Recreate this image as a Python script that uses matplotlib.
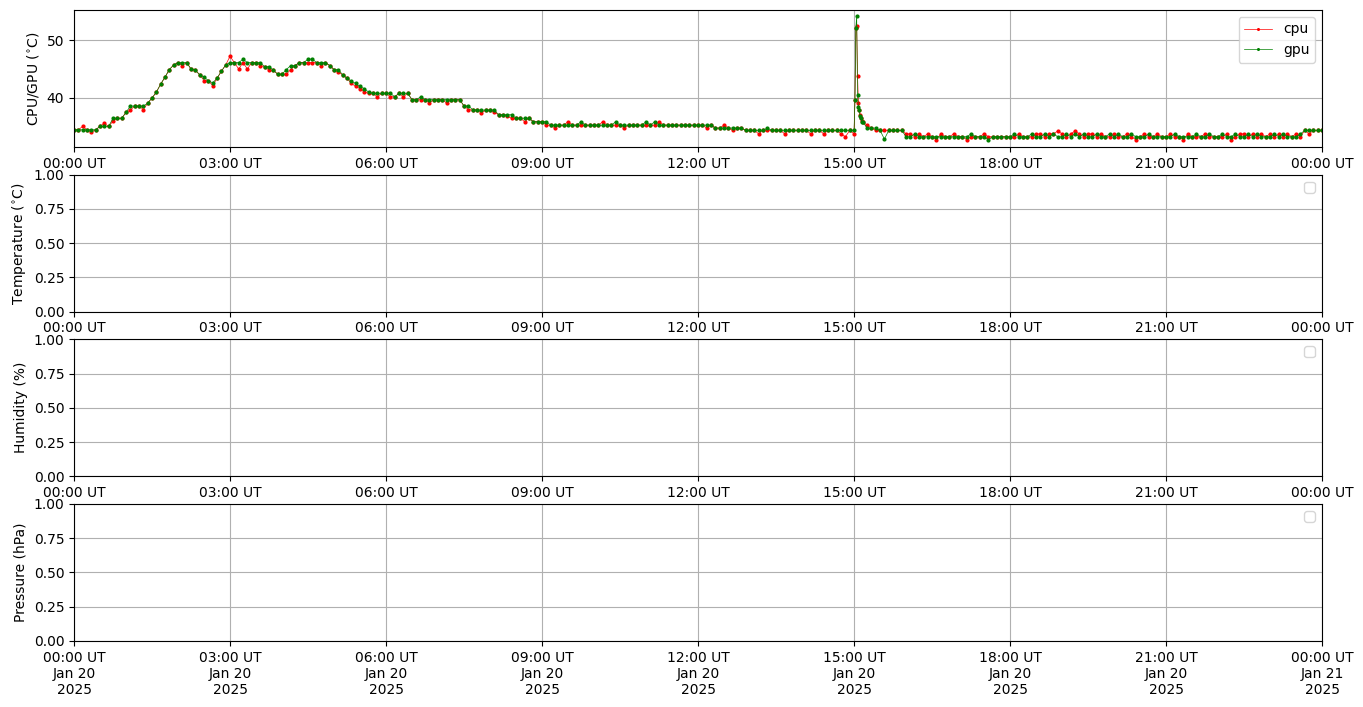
import numpy as np
import pandas as pd
import matplotlib
matplotlib.use('Agg')
import matplotlib.pyplot as plt
import matplotlib.dates as mdates

# cpu/gpu temperature, one reading every 5 minutes, 00:00 Jan 20 -> 00:00 Jan 21 (one row per hour)
gpu = [
    34.5,34.5,34.5,34.5,34.5,34.5,35.1,35.1,35.1,36.5,36.5,36.5,
    37.5,38.6,38.6,38.6,38.6,39.1,40.0,41.0,42.4,43.6,44.9,45.7,
    46.1,46.1,46.1,45.0,44.8,44.0,43.6,43.0,42.6,43.4,44.6,45.7,
    46.1,46.1,46.1,46.7,46.1,46.1,46.1,46.1,45.4,45.4,44.8,44.1,
    44.1,44.9,45.6,45.6,46.1,46.1,46.7,46.7,46.1,46.1,46.1,45.6,
    44.9,44.9,44.0,43.4,42.9,42.5,42.0,41.6,41.0,40.8,40.8,40.8,
    40.8,40.8,40.2,40.8,40.8,40.8,39.7,39.7,40.2,39.7,39.7,39.7,
    39.7,39.7,39.7,39.7,39.7,39.7,38.6,38.6,38.0,37.9,37.9,37.9,
    37.9,37.9,37.1,37.1,37.1,37.1,36.5,36.5,36.5,36.5,35.9,35.9,
    35.9,35.9,35.3,35.3,35.3,35.3,35.3,35.3,35.3,35.9,35.3,35.3,
    35.3,35.3,35.3,35.3,35.3,35.9,35.3,35.3,35.3,35.3,35.3,35.3,
    35.9,35.3,35.9,35.3,35.3,35.3,35.3,35.3,35.3,35.3,35.3,35.3,
    35.3,35.3,35.3,35.3,34.8,34.8,34.8,34.8,34.8,34.8,34.8,34.4,
    34.4,34.4,34.4,34.4,34.8,34.4,34.4,34.4,34.4,34.4,34.4,34.4,
    34.4,34.4,34.4,34.4,34.4,34.4,34.4,34.4,34.4,34.4,34.4,34.4,
    34.4,38.4,35.9,34.8,34.8,34.8,34.4,32.9,34.4,34.4,34.4,34.4,
    33.3,33.3,33.8,33.3,33.3,33.3,33.3,33.3,33.3,33.3,33.3,33.3,
    33.3,33.3,33.3,33.8,33.3,33.3,33.3,32.8,33.3,33.3,33.3,33.3,
    33.3,33.8,33.3,33.3,33.3,33.8,33.3,33.3,33.8,33.3,33.8,33.3,
    33.3,33.8,33.3,33.8,33.3,33.8,33.3,33.3,33.8,33.3,33.3,33.8,
    33.3,33.8,33.3,33.3,33.8,33.3,33.3,33.3,33.8,33.3,33.3,33.3,
    33.3,33.3,33.8,33.3,33.3,33.3,33.3,33.8,33.3,33.3,33.8,33.3,
    33.3,33.8,33.3,33.3,33.8,33.3,33.3,33.8,33.3,33.8,33.3,33.3,
    33.3,33.8,33.3,33.8,33.3,33.3,33.3,33.8,34.4,34.4,34.4,34.4,
    34.4]
cpu = [
    34.5,34.5,35.1,34.5,34.1,34.5,35.1,35.6,35.1,36.0,36.5,36.5,
    37.5,37.9,38.6,38.6,38.0,39.1,40.0,41.0,42.4,43.6,44.9,45.7,
    46.1,45.6,46.1,45.0,44.8,44.0,43.0,43.0,42.1,43.4,44.6,45.7,
    47.2,46.1,45.0,46.1,45.0,46.1,46.1,45.6,45.4,44.8,44.8,44.1,
    44.1,44.1,44.9,45.6,46.1,46.1,46.1,46.1,46.1,45.6,46.1,45.6,
    44.9,44.4,44.0,43.4,42.5,42.0,41.6,41.0,40.8,40.8,40.2,40.8,
    40.8,40.2,40.2,40.8,40.2,40.8,39.7,39.7,39.7,39.7,39.1,39.7,
    39.7,39.7,39.1,39.7,39.7,39.7,38.6,38.0,37.9,37.9,37.4,37.9,
    37.9,37.5,37.1,37.1,36.8,36.5,36.5,36.5,35.9,36.5,35.9,35.9,
    35.9,35.3,35.3,34.8,35.3,35.3,35.9,35.3,35.3,35.3,35.3,35.3,
    35.3,35.3,35.9,35.3,35.3,35.3,35.3,34.8,35.3,35.3,35.3,35.3,
    35.3,35.3,35.3,35.9,35.3,35.3,35.3,35.3,35.3,35.3,35.3,35.3,
    35.3,35.3,34.8,35.3,34.8,34.8,35.3,34.8,34.4,34.8,34.8,34.4,
    34.4,34.4,33.8,34.4,34.4,34.4,34.4,34.4,33.8,34.4,34.4,34.4,
    34.4,34.4,33.8,34.4,34.4,33.8,34.4,34.4,34.4,33.8,33.3,34.4,
    33.8,39.1,35.9,35.3,34.8,34.4,34.4,34.4,34.4,34.4,34.4,34.4,
    33.8,33.8,33.3,33.8,33.3,33.8,33.3,32.8,33.8,33.3,33.3,33.8,
    33.3,33.3,32.8,33.3,33.3,33.3,33.8,33.3,33.3,33.3,33.3,33.3,
    33.3,33.3,33.8,33.3,33.3,33.3,33.8,33.8,33.3,33.8,33.8,34.3,
    33.8,33.3,33.8,34.3,33.8,33.3,33.8,33.8,33.3,33.8,33.3,33.3,
    33.8,33.3,33.3,33.8,33.3,32.8,33.3,33.8,33.3,33.3,33.8,33.3,
    33.3,33.8,33.3,33.3,32.8,33.8,33.3,33.3,33.3,33.8,33.3,33.3,
    33.3,33.3,33.8,32.8,33.3,33.8,33.8,33.3,33.8,33.3,33.8,33.3,
    33.8,33.3,33.8,33.3,33.8,33.3,33.8,33.3,34.4,33.8,34.4,34.4,
    34.4]

# the short spike just after 15:00 was logged every minute
spike_min = [901, 902, 903, 904, 906, 907, 908, 909]
spike_cpu = [39.7, 52.0, 52.5, 43.8, 37.9, 37.1, 36.5, 36.0]
spike_gpu = [39.7, 52.0, 54.1, 40.5, 37.9, 36.8, 36.5, 35.9]

day = pd.Timestamp('2025-01-20 00:00')
minutes = list(range(0, 1441, 5)) + spike_min
df = pd.DataFrame({'cpu': cpu + spike_cpu, 'gpu': gpu + spike_gpu},
                  index=[day + pd.Timedelta(minutes=m) for m in minutes]).sort_index()

ylabels = ['CPU/GPU ($^{\\circ}$C)', 'Temperature ($^{\\circ}$C)', 'Humidity (%)', 'Pressure (hPa)']

fig, axs = plt.subplots(4, 1, figsize=(13.63, 7.07), dpi=100)
fig.subplots_adjust(left=0.0543, right=0.970, top=0.986, bottom=0.0934, hspace=0.202)

axs[0].plot(df.index, df['cpu'], '.-', color='r', lw=0.5, ms=4, label='cpu')
axs[0].plot(df.index, df['gpu'], '.-', color='g', lw=0.5, ms=4, label='gpu')
axs[0].set_ylim(31.55, 55.2)
axs[0].legend(loc='upper right', markerscale=0.6)

for i, ax in enumerate(axs):
    ax.set_xlim(day, day + pd.Timedelta(days=1))
    ax.set_ylabel(ylabels[i])
    ax.xaxis.set_major_locator(mdates.HourLocator(byhour=range(0, 24, 3)))
    if i == 3:
        ax.xaxis.set_major_formatter(mdates.DateFormatter('%H:%M UT\n%b %d\n%Y'))
    else:
        ax.xaxis.set_major_formatter(mdates.DateFormatter('%H:%M UT'))
    ax.grid()
    if i > 0:
        ax.legend(loc='upper right')

plt.savefig('out.png')
